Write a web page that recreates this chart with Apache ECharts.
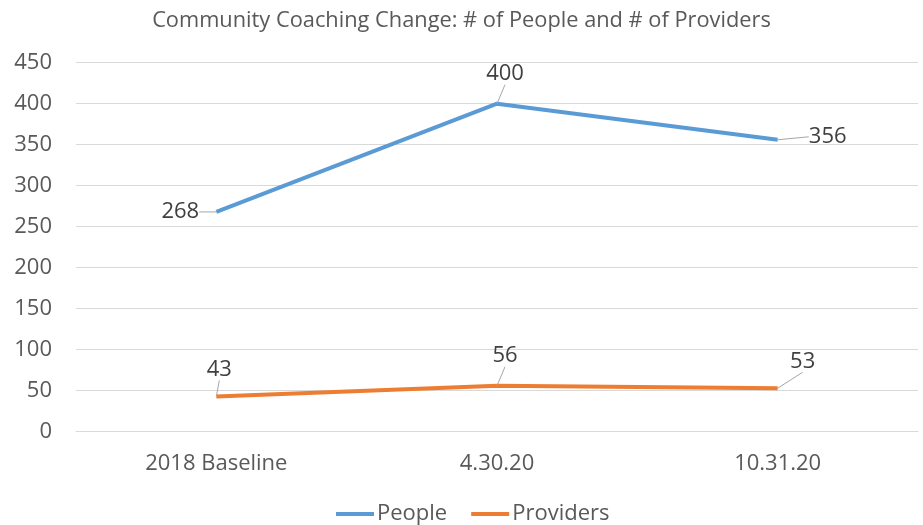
<!DOCTYPE html>
<html><head><meta charset="utf-8">
<script src="https://cdn.jsdelivr.net/npm/echarts@6/dist/echarts.min.js"></script>
<style>html,body{margin:0;padding:0;background:#fff}#c{width:923px;height:525px}</style>
</head><body><div id="c"></div>
<script>
var categories = ['2018 Baseline', '4.30.20', '10.31.20'];
var people = [268, 400, 356];
var providers = [43, 56, 53];
var yTicks = [0, 50, 100, 150, 200, 250, 300, 350, 400, 450];

var FONT = '"Open Sans", "Noto Sans", sans-serif';
var labelOffsets = [
  [[-36, 0], [8, -30], [50, -3]],
  [[3, -27], [8, -30], [25, -27]]
];
var chart = echarts.init(document.getElementById('c'));
chart.setOption({
  animation: false,
  title: { text: 'Community Coaching Change: # of People and # of Providers', left: 'center', top: 5,
    textStyle: { fontFamily: FONT, fontSize: 21.8, fontWeight: 'normal', color: '#595959' } },
  grid: { left: 76, right: 5, top: 62.7, bottom: 93.3, containLabel: false },
  legend: { top: 498, left: 331, itemWidth: 38, itemHeight: 4, itemGap: 24, icon: 'rect',
    textStyle: { fontFamily: FONT, fontSize: 22, color: '#595959', padding: [0, 0, 0, -2] } },
  xAxis: { type: 'category', data: categories, boundaryGap: true,
    axisLine: { lineStyle: { color: '#d9d9d9' } }, axisTick: { show: false },
    axisLabel: { fontFamily: FONT, fontSize: 22, color: '#595959', margin: 21 } },
  yAxis: { type: 'value', min: yTicks[0], max: yTicks[yTicks.length - 1], interval: 50,
    axisLine: { show: false }, axisTick: { show: false },
    splitLine: { lineStyle: { color: '#d9d9d9', width: 1 } },
    axisLabel: { fontFamily: FONT, fontSize: 22, color: '#595959', margin: 24 } },
  series: [
    { name: 'People', type: 'line', data: people, symbol: 'circle', symbolSize: 0.1, showSymbol: true,
      lineStyle: { width: 4, color: '#5B9BD5' }, itemStyle: { color: '#5B9BD5' },
      label: { show: true, position: 'inside', fontFamily: FONT, fontSize: 22, color: '#404040' },
      labelLine: { show: true, lineStyle: { color: '#a6a6a6', width: 1 } } },
    { name: 'Providers', type: 'line', data: providers, symbol: 'circle', symbolSize: 0.1, showSymbol: true,
      lineStyle: { width: 4, color: '#ED7D31' }, itemStyle: { color: '#ED7D31' },
      label: { show: true, position: 'inside', fontFamily: FONT, fontSize: 22, color: '#404040' },
      labelLine: { show: true, lineStyle: { color: '#a6a6a6', width: 1 } } }
  ],
  labelLayout: function (p) {
    var o = labelOffsets[p.seriesIndex][p.dataIndex];
    return { dx: o[0], dy: o[1] };
  }
});
</script></body></html>
